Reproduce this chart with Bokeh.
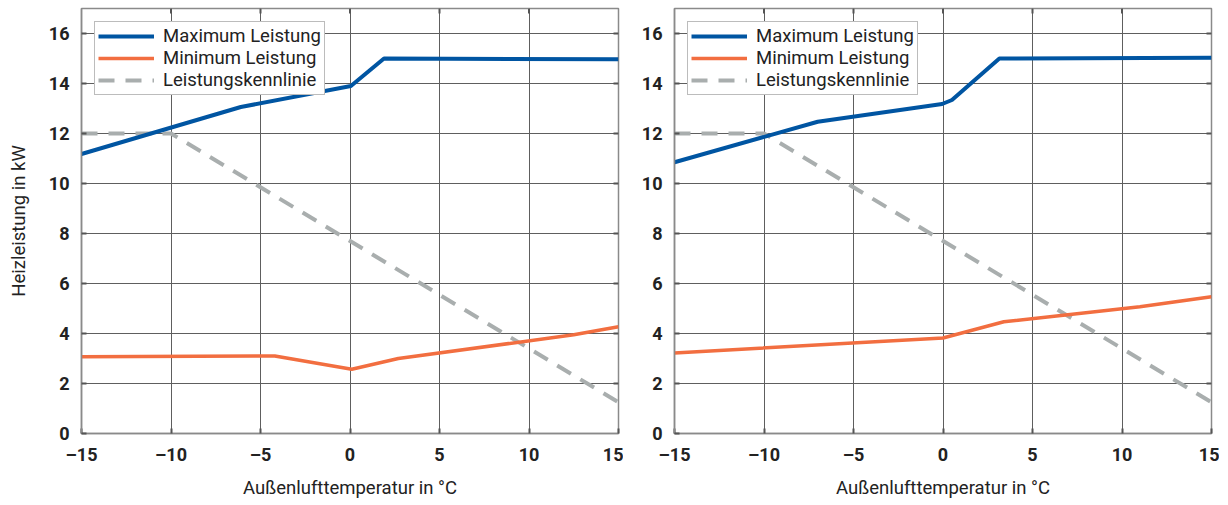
import math
from bokeh.plotting import figure
from bokeh.models import FixedTicker, Range1d, Legend, LegendItem
from bokeh.layouts import row
from bokeh.embed import file_html
from bokeh.resources import INLINE

# ---- data ----
x_ticks = [-15, -10, -5, 0, 5, 10, 15]
y_ticks = [0, 2, 4, 6, 8, 10, 12, 14, 16]
x_label_overrides = {-15: "\u201315", -10: "\u201310", -5: "\u20135"}
x_min, x_max = -15, 15
y_min, y_max = 0, 17

left_max_t = [-15, -6.1, 0.05, 1.9, 15]
left_max_p = [11.18, 13.06, 13.9, 15.0, 14.97]
left_min_t = [-15, -4.2, 0.1, 2.7, 12.5, 15]
left_min_p = [3.07, 3.1, 2.57, 3.0, 3.95, 4.27]

right_max_t = [-15, -7.0, -0.05, 0.5, 3.15, 15]
right_max_p = [10.85, 12.47, 13.18, 13.34, 15.0, 15.03]
right_min_t = [-15, 0, 3.4, 11.0, 15]
right_min_p = [3.22, 3.82, 4.47, 5.07, 5.47]

kenn_t = [-15, -10, 15]
kenn_p = [12, 12, 1.25]

labels = ["Maximum Leistung", "Minimum Leistung", "Leistungskennlinie"]

BLUE = "#0055A2"
ORANGE = "#F26E40"
GRAY = "#A9AEAE"
FONT = "Roboto"
TEXT = "#222222"
TICK = "#555555"
FRAME = "#8a8a8a"


def make_panel(max_t, max_p, min_t, min_p, with_ylabel, width, border_left, border_right):
    p = figure(width=width, height=502, output_backend="svg", toolbar_location=None,
               x_range=Range1d(x_min, x_max), y_range=Range1d(y_min, y_max),
               min_border_left=border_left, min_border_right=border_right,
               min_border_top=8, min_border_bottom=69,
               x_axis_label="Au\u00dfenlufttemperatur in \u00b0C",
               y_axis_label="Heizleistung in kW" if with_ylabel else None)
    p.background_fill_color = "white"
    p.border_fill_color = "white"
    p.outline_line_color = FRAME
    p.outline_line_width = 1.5

    r_kenn = p.line(kenn_t, kenn_p, line_color=GRAY, line_width=4, line_dash="16 11")
    r_max = p.line(max_t, max_p, line_color=BLUE, line_width=4)
    r_min = p.line(min_t, min_p, line_color=ORANGE, line_width=3.5)

    # inner tick marks on the top and right frame edges
    p.ray(x=x_ticks[1:-1], y=[y_max] * (len(x_ticks) - 2), length=5, length_units="screen",
          angle=-math.pi / 2, line_color=TICK, line_width=2)
    p.ray(x=[x_max] * (len(y_ticks) - 1), y=y_ticks[1:], length=5, length_units="screen",
          angle=math.pi, line_color=TICK, line_width=2)

    for ax in (p.xaxis[0], p.yaxis[0]):
        ax.major_label_text_font = FONT
        ax.major_label_text_font_size = "18px"
        ax.major_label_text_font_style = "bold"
        ax.major_label_text_color = TEXT
        ax.axis_label_text_font = FONT
        ax.axis_label_text_font_size = "18.5px"
        ax.axis_label_text_font_style = "normal"
        ax.axis_label_text_color = TEXT
        ax.axis_line_color = FRAME
        ax.axis_line_width = 1.5
        ax.major_tick_in = 5
        ax.major_tick_out = 0
        ax.major_tick_line_color = TICK
        ax.major_tick_line_width = 2
        ax.minor_tick_line_color = None
    p.xaxis[0].ticker = FixedTicker(ticks=x_ticks)
    p.yaxis[0].ticker = FixedTicker(ticks=y_ticks)
    p.xaxis[0].major_label_overrides = x_label_overrides
    p.xaxis[0].major_label_standoff = 10
    p.xaxis[0].axis_label_standoff = 9
    p.yaxis[0].major_label_standoff = 12
    p.yaxis[0].axis_label_standoff = 16

    p.xgrid.ticker = FixedTicker(ticks=x_ticks)
    p.ygrid.ticker = FixedTicker(ticks=y_ticks)
    p.xgrid.grid_line_color = "#5e5e5e"
    p.ygrid.grid_line_color = "#5e5e5e"
    p.xgrid.grid_line_width = 1
    p.ygrid.grid_line_width = 1

    legend = Legend(items=[LegendItem(label=labels[0], renderers=[r_max]),
                           LegendItem(label=labels[1], renderers=[r_min]),
                           LegendItem(label=labels[2], renderers=[r_kenn])],
                    location="top_left")
    legend.margin = 13
    legend.padding = 3
    legend.spacing = 0
    legend.glyph_width = 56
    legend.glyph_height = 20
    legend.label_height = 20
    legend.label_standoff = 9
    legend.label_text_font = FONT
    legend.label_text_font_size = "18.5px"
    legend.label_text_color = TEXT
    legend.border_line_color = "#7a7a7a"
    legend.border_line_width = 1
    legend.background_fill_color = "white"
    legend.background_fill_alpha = 1
    p.add_layout(legend, "center")
    return p


p1 = make_panel(left_max_t, left_max_p, left_min_t, left_min_p, True, 623, 81, 5)
p2 = make_panel(right_max_t, right_max_p, right_min_t, right_min_p, False, 596, 51, 8)

layout = row(p1, p2)
open("out.html", "w").write(file_html(layout, INLINE))
